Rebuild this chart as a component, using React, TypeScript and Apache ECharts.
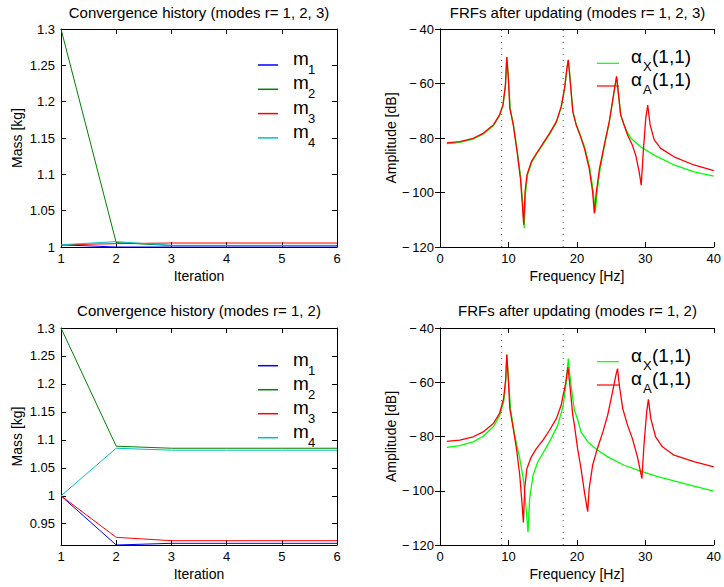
import React, { useEffect, useRef } from 'react';
import * as echarts from 'echarts';

const FONT = '"Liberation Sans", Arial, Helvetica, sans-serif';

// ---------- Data ----------
const iterations = [1, 2, 3, 4, 5, 6];

// Convergence history, modes r = 1, 2, 3
const topM1 = [1.003, 1.0, 1.0, 1.0, 1.0, 1.0];
const topM2 = [1.3, 1.006, 1.002, 1.002, 1.002, 1.002];
const topM3 = [1.003, 1.0046, 1.0055, 1.0055, 1.0055, 1.0055];
const topM4 = [1.003, 1.0074, 1.0023, 1.0023, 1.0023, 1.0023];

// Convergence history, modes r = 1, 2
const botM1 = [1.0, 0.912, 0.915, 0.915, 0.915, 0.915];
const botM2 = [1.3, 1.0887, 1.085, 1.085, 1.085, 1.085];
const botM3 = [1.0, 0.9257, 0.9197, 0.9197, 0.9197, 0.9197];
const botM4 = [1.0, 1.085, 1.0815, 1.0815, 1.0815, 1.0815];

const massNames = ['1', '2', '3', '4'];
const massColors = ['#0000ff', '#008000', '#ff0000', '#00bfbf'];

const botYTicks = [0.95, 1, 1.05, 1.1, 1.15, 1.2, 1.25, 1.3];

// FRFs after updating, modes r = 1, 2, 3  ([Hz, dB])
const topFrfX: number[][] = [
  [1, -82.1], [2.9, -81.6], [4.85, -80.4], [6.3, -78.6], [7.8, -75.5], [8.7, -71.8], [9.2, -68.2],
  [9.56, -60.8], [9.76, -50.5], [9.97, -56.8], [10.25, -69], [10.75, -75.4], [11.3, -85], [11.8, -94.8],
  [12.1, -104.7], [12.3, -113], [12.5, -99.8], [12.78, -93.6], [13.45, -88.7], [14.2, -85.6], [15.15, -82],
  [16.1, -78.3], [17.05, -74], [17.75, -68.5], [18.22, -61.7], [18.56, -54.4], [18.76, -51.5], [18.92, -55.6],
  [19.42, -70.3], [19.92, -75.2], [20.45, -78.5], [21.2, -83.8], [21.9, -91.2], [22.4, -99.8], [22.7, -107],
  [22.95, -99.8], [23.4, -91.2], [24.05, -82.6], [24.75, -74], [25.22, -66.6], [25.56, -61.1], [25.8, -57.6],
  [26.04, -63], [26.4, -71.5], [26.9, -75.4], [27.4, -78], [27.9, -80.1], [29.3, -83.2], [31.3, -86.3],
  [34.2, -89.9], [37.1, -92.4], [40, -94],
];
const topFrfA: number[][] = [
  [1, -81.8], [2.9, -81.3], [4.85, -80.1], [6.3, -78.3], [7.8, -75.2], [8.7, -71.5], [9.2, -67.9],
  [9.56, -60.5], [9.76, -50.3], [9.95, -56.8], [10.2, -69], [10.7, -75.2], [11.26, -85], [11.75, -94.8],
  [12.04, -104.7], [12.23, -111.8], [12.43, -99.8], [12.7, -93.6], [13.35, -88.7], [14.1, -85.6], [15.05, -82],
  [16, -78.3], [17, -74], [17.7, -68.5], [18.2, -61.7], [18.54, -54.4], [18.74, -51.3], [18.9, -55.6],
  [19.4, -70.3], [19.9, -75.2], [20.4, -78.5], [21.1, -83.8], [21.8, -91.2], [22.3, -99.8], [22.55, -107.7],
  [22.84, -99.8], [23.3, -91.2], [24, -82.6], [24.73, -74], [25.2, -66.6], [25.55, -61.1], [25.8, -57.4],
  [26.04, -63], [26.4, -71.5], [26.9, -75.2], [27.4, -78.9], [28.1, -82.6], [28.6, -86.3], [29.1, -92.4],
  [29.4, -97.3], [29.7, -85], [30.06, -72.8], [30.35, -67.9], [30.7, -75.2], [31.3, -80.7], [32.25, -83.8],
  [34.2, -86.9], [37.1, -89.9], [40, -92],
];

// FRFs after updating, modes r = 1, 2
const botFrfX: number[][] = [
  [1, -84], [2.9, -83.4], [4.85, -82], [6.3, -79.9], [7.8, -76.4], [8.7, -72.4], [9.3, -67.2], [9.6, -59.9],
  [9.76, -49.8], [10, -58.7], [10.3, -69.7], [10.9, -79.5], [11.65, -88.1], [12.23, -96.7], [12.62, -107.7],
  [12.86, -115.3], [13.1, -102.8], [13.6, -94.2], [14.3, -89.3], [15.3, -85], [16.26, -80.7], [17.2, -75.8],
  [17.96, -69.1], [18.45, -59.9], [18.74, -51.3], [19.03, -58.7], [19.4, -66], [19.64, -70.3], [20.15, -74],
  [20.6, -78.3], [21.6, -82], [23, -85], [24.5, -87.5], [26.9, -90.6], [29.3, -92.8], [31.8, -94.8],
  [34.2, -96.4], [37.1, -98.3], [40, -100.1],
];
const botFrfA: number[][] = [
  [1, -81.8], [2.9, -81.3], [4.85, -80.1], [6.3, -78.3], [7.8, -75.2], [8.7, -71.5], [9.3, -66], [9.6, -58.7],
  [9.76, -49.8], [9.95, -57.4], [10.2, -69.7], [10.7, -77], [11.17, -84.4], [11.65, -94.2], [12, -105.3],
  [12.18, -111.7], [12.38, -99.1], [12.7, -91.8], [13.35, -87.5], [14.1, -84.4], [15.05, -81.3], [16, -77.7],
  [17, -73.4], [17.7, -68.5], [18.35, -60.5], [18.7, -54.4], [18.93, -59.9], [19.4, -72.1], [19.64, -75.8],
  [20.1, -84.4], [20.6, -91.8], [21.1, -100.4], [21.58, -107.7], [21.8, -99.1], [22.3, -90.6], [23, -84.4],
  [23.8, -78.3], [24.5, -72.1], [25.2, -63.6], [25.7, -57.4], [25.94, -55], [26.2, -61.1], [26.7, -69.7],
  [27.4, -75.8], [28.1, -80.7], [28.85, -87.5], [29.2, -91.8], [29.5, -95.5], [29.8, -83.2], [30.2, -70.9],
  [30.45, -66.3], [30.8, -73.4], [31.5, -80.1], [32.5, -83.8], [34.2, -86.9], [37.1, -89.3], [40, -91.2],
];

const frfNames = ['X', 'A'];
const frfColors = ['#00ff00', '#ff0000'];
const dottedFreqs = [9, 18];

const titles = [
  'Convergence history (modes r= 1, 2, 3)',
  'FRFs after updating (modes r= 1, 2, 3)',
  'Convergence history (modes r= 1, 2)',
  'FRFs after updating (modes r= 1, 2)',
];

// ---------- Layout ----------
const grids = [
  { left: 61, top: 29, width: 276, height: 218 },
  { left: 440, top: 29, width: 275, height: 218 },
  { left: 61, top: 328, width: 276, height: 217 },
  { left: 440, top: 328, width: 275, height: 217 },
];

const axisLine = { show: true, lineStyle: { color: '#000', width: 1 } };
const tickIn = { show: true, inside: true, length: 5, lineStyle: { color: '#000', width: 1 } };
const labelStyle = { color: '#000', fontSize: 13, fontFamily: FONT };
const nameStyle = { color: '#000', fontSize: 14, fontFamily: FONT };
const minus = (v: number) => String(v).replace('-', '\u2212\u2009');

function xPair(g: number, min: number, max: number, interval: number, name: string) {
  return [
    {
      type: 'value', gridIndex: g, position: 'bottom', min, max, interval,
      axisLine, axisTick: tickIn, splitLine: { show: false },
      axisLabel: { ...labelStyle, margin: 5, formatter: minus },
      name, nameLocation: 'middle', nameGap: 22, nameTextStyle: nameStyle,
    },
    {
      type: 'value', gridIndex: g, position: 'top', min, max, interval,
      axisLine, axisTick: tickIn, splitLine: { show: false }, axisLabel: { show: false },
    },
  ];
}

function yPair(g: number, min: number, max: number, interval: number | undefined, name: string, nameGap: number, custom?: number[]) {
  const base: any = { type: 'value', gridIndex: g, min, max, splitLine: { show: false }, axisLine };
  if (interval !== undefined) base.interval = interval;
  const tick: any = { ...tickIn };
  const label: any = { ...labelStyle, margin: 6, formatter: minus };
  if (custom) {
    tick.customValues = custom;
    label.customValues = custom;
  }
  return [
    { ...base, position: 'left', axisTick: tick, axisLabel: label, name, nameLocation: 'middle', nameGap, nameTextStyle: nameStyle },
    { ...base, position: 'right', axisTick: { ...tick }, axisLabel: { show: false } },
  ];
}

function convSeries(g: number, arrays: number[][]) {
  return arrays.map((arr, i) => ({
    type: 'line', xAxisIndex: g * 2, yAxisIndex: g * 2, name: 'm' + massNames[i] + '_' + g,
    data: iterations.map((it, k) => [it, arr[k]]), symbol: 'none',
    lineStyle: { color: massColors[i], width: 1 }, silent: true,
  }));
}

function frfSeries(g: number, curves: number[][][]) {
  const dots = dottedFreqs.map((f, i) => ({
    type: 'line', xAxisIndex: g * 2, yAxisIndex: g * 2, name: 'dot' + i + '_' + g,
    data: [[f, -120], [f, -40]], symbol: 'none', silent: true,
    lineStyle: { color: '#555', width: 1, type: [1, 5] },
  }));
  const lines = curves.map((c, i) => ({
    type: 'line', xAxisIndex: g * 2, yAxisIndex: g * 2, name: 'alpha' + frfNames[i] + '_' + g,
    data: c, symbol: 'none', silent: true,
    lineStyle: { color: frfColors[i], width: 1.3 },
  }));
  return [...dots, ...lines];
}

function massLegend(baseY: number, step: number) {
  const els: any[] = [];
  massNames.forEach((n, i) => {
    const y = baseY + i * step;
    els.push({ type: 'line', shape: { x1: 258, y1: y, x2: 278, y2: y }, style: { stroke: massColors[i], lineWidth: 1.5 } });
    els.push({ type: 'text', style: { text: 'm', x: 293, y: y - 6.6, font: `19px ${FONT}`, fill: '#000', verticalAlign: 'middle' } });
    els.push({ type: 'text', style: { text: n, x: 308, y: y + 4.5, font: `13px ${FONT}`, fill: '#000', verticalAlign: 'middle' } });
  });
  return els;
}

function frfLegend(baseY: number, step: number) {
  const els: any[] = [];
  frfNames.forEach((n, i) => {
    const y = baseY + i * step;
    els.push({ type: 'line', shape: { x1: 597, y1: y, x2: 619, y2: y }, style: { stroke: frfColors[i], lineWidth: 1.2 } });
    els.push({ type: 'text', style: { text: '\u03b1', x: 631, y: y - 6.6, font: `19px ${FONT}`, fill: '#000', verticalAlign: 'middle' } });
    els.push({ type: 'text', style: { text: n, x: 643, y: y + 3.6, font: `13px ${FONT}`, fill: '#000', verticalAlign: 'middle' } });
    els.push({ type: 'text', style: { text: '(1,1)', x: 652, y: y - 6.6, font: `19px ${FONT}`, fill: '#000', verticalAlign: 'middle' } });
  });
  return els;
}

const option: any = {
  animation: false,
  backgroundColor: '#fff',
  textStyle: { fontFamily: FONT },
  title: titles.map((t, i) => ({
    text: t,
    left: grids[i].left + grids[i].width / 2,
    top: i < 2 ? 5 : 303,
    textAlign: 'center',
    padding: 0,
    textStyle: { fontSize: 15, fontWeight: 'normal', color: '#000', fontFamily: FONT },
  })),
  grid: grids.map((g) => ({ ...g, containLabel: false })),
  xAxis: [
    ...xPair(0, 1, 6, 1, 'Iteration'),
    ...xPair(1, 0, 40, 10, 'Frequency [Hz]'),
    ...xPair(2, 1, 6, 1, 'Iteration'),
    ...xPair(3, 0, 40, 10, 'Frequency [Hz]'),
  ],
  yAxis: [
    ...yPair(0, 1, 1.3, 0.05, 'Mass [kg]', 37),
    ...yPair(1, -120, -40, 20, 'Amplitude [dB]', 41),
    ...yPair(2, 0.912, 1.3, undefined, 'Mass [kg]', 37, botYTicks),
    ...yPair(3, -120, -40, 20, 'Amplitude [dB]', 41),
  ],
  series: [
    ...convSeries(0, [topM1, topM2, topM3, topM4]),
    ...frfSeries(1, [topFrfX, topFrfA]),
    ...convSeries(2, [botM1, botM2, botM3, botM4]),
    ...frfSeries(3, [botFrfX, botFrfA]),
  ],
  graphic: [
    ...massLegend(65, 24.3),
    ...frfLegend(63.3, 22.7),
    ...massLegend(365.7, 24),
    ...frfLegend(361.7, 23.3),
  ],
};

export default function App() {
  const ref = useRef<HTMLDivElement>(null);
  useEffect(() => {
    if (!ref.current) return;
    const chart = echarts.init(ref.current, null, { renderer: 'svg' });
    chart.setOption(option);
    return () => chart.dispose();
  }, []);
  return (
    <div
      ref={ref}
      style={{ position: 'fixed', left: 0, top: 0, width: 724, height: 587, background: '#fff' }}
    />
  );
}
